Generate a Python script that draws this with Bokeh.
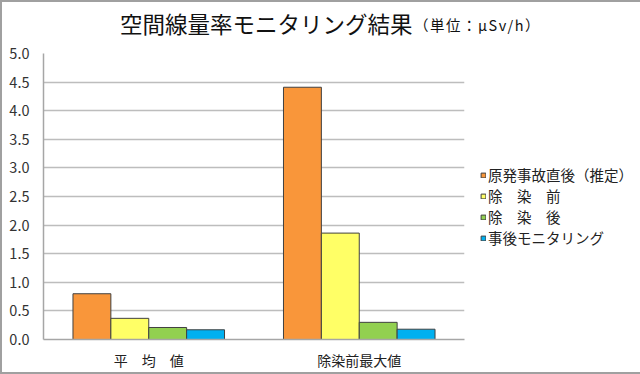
from bokeh.plotting import figure
from bokeh.layouts import column
from bokeh.models import ColumnDataSource, Legend, LegendItem, Div, FixedTicker, NumeralTickFormatter
from bokeh.transform import dodge
from bokeh.embed import file_html
from bokeh.resources import INLINE

categories = ["平　均　値", "除染前最大値"]
series_names = ["原発事故直後（推定）", "除　染　前", "除　染　後", "事後モニタリング"]
after_accident = [0.80, 4.41]
before_decon = [0.37, 1.86]
after_decon = [0.21, 0.30]
monitoring = [0.17, 0.18]
y_ticks = [0.0, 0.5, 1.0, 1.5, 2.0, 2.5, 3.0, 3.5, 4.0, 4.5, 5.0]
title_main = "空間線量率モニタリング結果"
title_unit = "（単位：μSv/h）"

colors = ["#F9963A", "#FFFF66", "#92D050", "#00B0F0"]
keys = ["s0", "s1", "s2", "s3"]
source = ColumnDataSource(dict(cat=categories, s0=after_accident, s1=before_decon,
                               s2=after_decon, s3=monitoring))

FONT = "Noto Sans CJK JP"

title_div = Div(
    text=('<div style="position:relative;width:636px;height:40px;'
          "font-family:'Noto Sans CJK JP';color:#111111;white-space:nowrap;\">"
          '<span style="position:absolute;left:118px;top:7px;font-size:22.5px;line-height:28px;">'
          + title_main + '</span>'
          '<span style="position:absolute;left:412px;top:13px;font-size:14.5px;line-height:20px;letter-spacing:1.5px;">'
          + title_unit + '</span></div>'),
    width=636, height=40, margin=0)

p = figure(x_range=categories, y_range=(0, 5), frame_width=421, frame_height=286,
           output_backend="svg", toolbar_location=None, title=None, margin=0,
           min_border_left=41, min_border_right=174, min_border_top=11, min_border_bottom=33)

offsets = [-0.27, -0.09, 0.09, 0.27]
renderers = []
for k, off, c in zip(keys, offsets, colors):
    r = p.vbar(x=dodge("cat", off, range=p.x_range), top=k, width=0.18, source=source,
               fill_color=c, line_color="#404040", line_width=1)
    renderers.append(r)

legend = Legend(items=[LegendItem(label=n, renderers=[r]) for n, r in zip(series_names, renderers)],
                location=(16, 91), glyph_width=6, glyph_height=6, label_standoff=2,
                label_height=21, spacing=0, padding=0, margin=0,
                label_text_font=FONT, label_text_font_size="14.5px", label_text_color="#222222",
                border_line_color=None, background_fill_alpha=0)
p.add_layout(legend, "right")

p.xgrid.grid_line_color = None
p.ygrid.grid_line_color = "#BDBDBD"
p.ygrid.grid_line_width = 1.5
p.outline_line_color = None

p.yaxis.ticker = FixedTicker(ticks=y_ticks)
p.yaxis.formatter = NumeralTickFormatter(format="0.0")
p.yaxis.axis_line_color = "#A6A6A6"
p.yaxis.axis_line_width = 1.5
p.yaxis.major_tick_line_color = None
p.yaxis.minor_tick_line_color = None
p.yaxis.major_label_standoff = 8
p.yaxis.major_label_text_font = FONT
p.yaxis.major_label_text_font_size = "14.5px"
p.yaxis.major_label_text_color = "#333333"

p.xaxis.axis_line_color = "#A6A6A6"
p.xaxis.axis_line_width = 1.5
p.xaxis.major_tick_line_color = None
p.xaxis.minor_tick_line_color = None
p.xaxis.major_label_standoff = 4
p.xaxis.major_label_text_font = FONT
p.xaxis.major_label_text_font_size = "14px"
p.xaxis.major_label_text_color = "#222222"

layout = column(title_div, p, spacing=0, margin=0)
layout.styles = {"border": "2px solid #A0A0A0"}

open("out.html", "w").write(file_html(layout, INLINE))
